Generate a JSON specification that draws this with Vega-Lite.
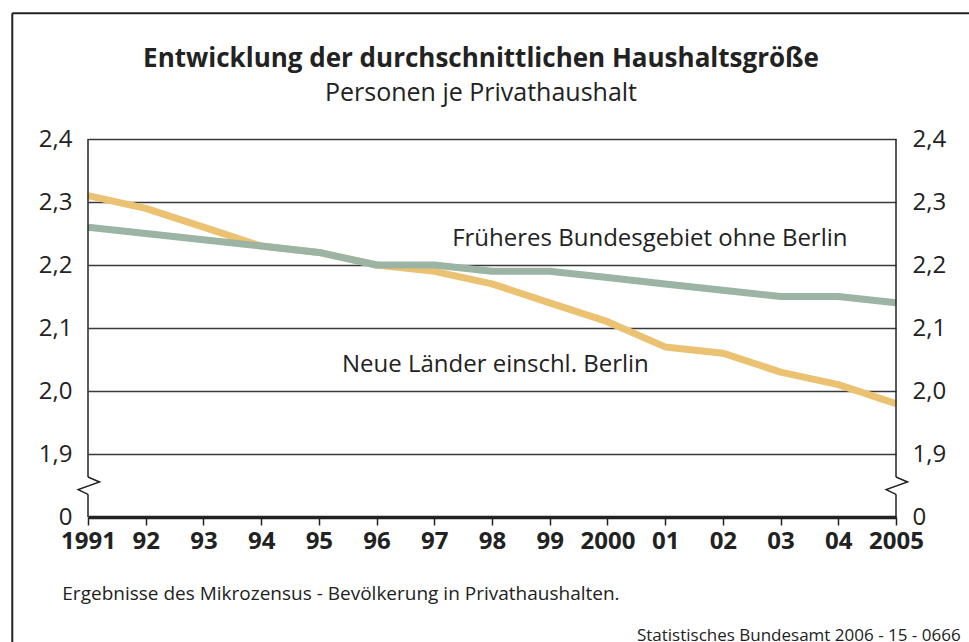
{
  "$schema": "https://vega.github.io/schema/vega-lite/v6.json",
  "autosize": "none",
  "width": 808,
  "height": 378,
  "padding": {"left": 88, "top": 139, "right": 73, "bottom": 125},
  "background": "white",
  "config": {"view": {"stroke": null}, "font": "Open Sans"},
  "title": {
    "text": "Entwicklung der durchschnittlichen Haushaltsgröße",
    "subtitle": "Personen je Privathaushalt",
    "font": "Open Sans",
    "subtitleFont": "Open Sans",
    "fontSize": 26,
    "fontWeight": "bold",
    "subtitleFontSize": 25,
    "color": "#222222",
    "subtitleColor": "#222222",
    "anchor": "middle",
    "frame": "group",
    "dx": -11,
    "offset": -94,
    "subtitlePadding": 9
  },
  "datasets": {
    "neue": [
      {"year": 1991, "value": 2.31}, {"year": 1992, "value": 2.29}, {"year": 1993, "value": 2.26},
      {"year": 1994, "value": 2.23}, {"year": 1995, "value": 2.22}, {"year": 1996, "value": 2.20},
      {"year": 1997, "value": 2.19}, {"year": 1998, "value": 2.17}, {"year": 1999, "value": 2.14},
      {"year": 2000, "value": 2.11}, {"year": 2001, "value": 2.07}, {"year": 2002, "value": 2.06},
      {"year": 2003, "value": 2.03}, {"year": 2004, "value": 2.01}, {"year": 2005, "value": 1.98}
    ],
    "frueher": [
      {"year": 1991, "value": 2.26}, {"year": 1992, "value": 2.25}, {"year": 1993, "value": 2.24},
      {"year": 1994, "value": 2.23}, {"year": 1995, "value": 2.22}, {"year": 1996, "value": 2.20},
      {"year": 1997, "value": 2.20}, {"year": 1998, "value": 2.19}, {"year": 1999, "value": 2.19},
      {"year": 2000, "value": 2.18}, {"year": 2001, "value": 2.17}, {"year": 2002, "value": 2.16},
      {"year": 2003, "value": 2.15}, {"year": 2004, "value": 2.15}, {"year": 2005, "value": 2.14}
    ],
    "axisLines": [
      {"year": 1991, "lo": 1.8635, "hi": 2.4},
      {"year": 1991, "lo": 1.8, "hi": 1.836},
      {"year": 2005, "lo": 1.8635, "hi": 2.4},
      {"year": 2005, "lo": 1.8, "hi": 1.836}
    ],
    "zigzag": [
      {"side": "L", "step": 1, "year": 1991, "value": 1.8635},
      {"side": "L", "step": 2, "year": 1991.2, "value": 1.8556},
      {"side": "L", "step": 3, "year": 1990.83, "value": 1.8435},
      {"side": "L", "step": 4, "year": 1991, "value": 1.836},
      {"side": "R", "step": 1, "year": 2005, "value": 1.8635},
      {"side": "R", "step": 2, "year": 2005.2, "value": 1.8556},
      {"side": "R", "step": 3, "year": 2004.83, "value": 1.8435},
      {"side": "R", "step": 4, "year": 2005, "value": 1.836}
    ],
    "lineLabels": [
      {"text": "Früheres Bundesgebiet ohne Berlin", "year": 1997.31, "value": 2.2408},
      {"text": "Neue Länder einschl. Berlin", "year": 1995.4, "value": 2.0408}
    ],
    "footnote": [
      {"text": "Ergebnisse des Mikrozensus - Bevölkerung in Privathaushalten.", "year": 1990.555, "value": 1.6773}
    ],
    "source": [
      {"text": "Statistisches Bundesamt 2006 - 15 - 0666", "year": 2006.12, "value": 1.611}
    ]
  },
  "layer": [
    {
      "data": {"name": "neue"},
      "mark": {"type": "line", "color": "#EAC272", "strokeWidth": 7, "strokeJoin": "round"},
      "encoding": {
        "x": {
          "field": "year", "type": "quantitative",
          "scale": {"domain": [1991, 2005], "nice": false, "zero": false},
          "axis": {
            "values": [1991,1992,1993,1994,1995,1996,1997,1998,1999,2000,2001,2002,2003,2004,2005],
            "labelExpr": "datum.value == 1991 || datum.value == 2000 || datum.value == 2005 ? format(datum.value, 'd') : slice(format(datum.value, 'd'), 2)",
            "title": null, "grid": false,
            "domain": true, "domainColor": "#222222", "domainWidth": 3.5,
            "ticks": true, "tickColor": "#222222", "tickWidth": 1.5, "tickSize": 8,
            "labelFontSize": 24, "labelFontWeight": "bold", "labelColor": "#222222",
            "labelPadding": 4, "labelFlush": false, "labelOverlap": false, "labelFont": "Open Sans"
          }
        },
        "y": {
          "field": "value", "type": "quantitative",
          "scale": {"domain": [1.8, 2.4], "nice": false, "zero": false},
          "axis": {
            "orient": "left",
            "values": [1.8, 1.9, 2.0, 2.1, 2.2, 2.3, 2.4],
            "labelExpr": "datum.value < 1.85 ? '0' : replace(format(datum.value, '.1f'), '.', ',')",
            "title": null, "grid": true, "gridColor": "#3a3a3a", "gridWidth": 1.4,
            "domain": false, "ticks": false,
            "labelFontSize": 24, "labelColor": "#222222", "labelPadding": 16, "labelFont": "Open Sans"
          }
        }
      }
    },
    {
      "data": {"name": "frueher"},
      "mark": {"type": "line", "color": "#9CB4A3", "strokeWidth": 7, "strokeJoin": "round"},
      "encoding": {
        "x": {"field": "year", "type": "quantitative"},
        "y": {
          "field": "value", "type": "quantitative",
          "axis": {
            "orient": "right",
            "values": [1.8, 1.9, 2.0, 2.1, 2.2, 2.3, 2.4],
            "labelExpr": "datum.value < 1.85 ? '0' : replace(format(datum.value, '.1f'), '.', ',')",
            "title": null, "grid": false,
            "domain": false, "ticks": false,
            "labelFontSize": 24, "labelColor": "#222222", "labelPadding": 16, "labelFont": "Open Sans"
          }
        }
      }
    },
    {
      "data": {"name": "axisLines"},
      "mark": {"type": "rule", "color": "#222222", "strokeWidth": 1.5},
      "encoding": {
        "x": {"field": "year", "type": "quantitative"},
        "y": {"field": "lo", "type": "quantitative", "axis": null},
        "y2": {"field": "hi"}
      }
    },
    {
      "data": {"name": "zigzag"},
      "mark": {"type": "line", "color": "#222222", "strokeWidth": 1.5},
      "encoding": {
        "x": {"field": "year", "type": "quantitative"},
        "y": {"field": "value", "type": "quantitative", "axis": null},
        "detail": {"field": "side"},
        "order": {"field": "step", "type": "quantitative"}
      }
    },
    {
      "data": {"name": "lineLabels"},
      "mark": {"type": "text", "align": "left", "baseline": "middle", "fontSize": 24, "color": "#222222", "font": "Open Sans"},
      "encoding": {
        "x": {"field": "year", "type": "quantitative"},
        "y": {"field": "value", "type": "quantitative", "axis": null},
        "text": {"field": "text"}
      }
    },
    {
      "data": {"name": "footnote"},
      "mark": {"type": "text", "align": "left", "baseline": "middle", "fontSize": 19, "color": "#222222", "font": "Open Sans"},
      "encoding": {
        "x": {"field": "year", "type": "quantitative"},
        "y": {"field": "value", "type": "quantitative", "axis": null},
        "text": {"field": "text"}
      }
    },
    {
      "data": {"name": "source"},
      "mark": {"type": "text", "align": "right", "baseline": "middle", "fontSize": 17, "color": "#222222", "font": "Open Sans"},
      "encoding": {
        "x": {"field": "year", "type": "quantitative"},
        "y": {"field": "value", "type": "quantitative", "axis": null},
        "text": {"field": "text"}
      }
    },
    {
      "mark": {"type": "rule", "color": "#222222", "strokeWidth": 2},
      "encoding": {
        "x": {"datum": 1989.688, "type": "quantitative"},
        "y": {"datum": 1.55, "type": "quantitative", "axis": null},
        "y2": {"datum": 2.5995}
      }
    },
    {
      "mark": {"type": "rule", "color": "#222222", "strokeWidth": 2},
      "encoding": {
        "x": {"datum": 1989.688, "type": "quantitative"},
        "x2": {"datum": 2006.6},
        "y": {"datum": 2.5995, "type": "quantitative", "axis": null}
      }
    }
  ],
  "resolve": {"axis": {"y": "independent"}}
}
